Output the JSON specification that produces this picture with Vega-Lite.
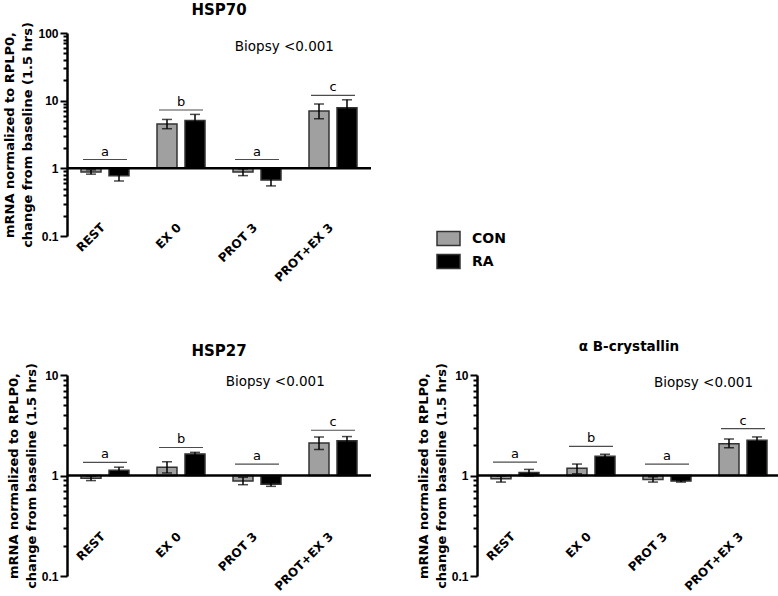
{
 "$schema": "https://vega.github.io/schema/vega-lite/v6.json",
 "padding": {"left": 3, "top": 2, "right": 0, "bottom": 0},
 "bounds": "flush",
 "spacing": 139,
 "config": {
  "view": {"stroke": null},
  "font": "DejaVu Sans",
  "title": {"font": "DejaVu Sans", "fontSize": 15, "fontWeight": "bold", "color": "black", "offset": 4},
  "axis": {"labelColor": "black", "titleColor": "black"},
  "legend": {
   "orient": "none", "legendX": 369, "legendY": 193,
   "symbolType": "M-1,-0.6H1V0.6H-1Z", "symbolSize": 529,
   "symbolStrokeColor": "#333333", "symbolStrokeWidth": 1.5,
   "labelFont": "DejaVu Sans", "labelFontWeight": "bold", "labelFontSize": 14, "labelColor": "black",
   "labelOffset": 11, "rowPadding": 0
  }
 },
 "datasets": {
  "bars": [
   {"gene": "HSP70", "group": "REST", "cond": "CON", "mean": 0.88, "lo": 0.82, "hi": 0.95},
   {"gene": "HSP70", "group": "REST", "cond": "RA", "mean": 0.78, "lo": 0.65, "hi": 0.9},
   {"gene": "HSP70", "group": "EX 0", "cond": "CON", "mean": 4.52, "lo": 3.85, "hi": 5.28},
   {"gene": "HSP70", "group": "EX 0", "cond": "RA", "mean": 5.1, "lo": 4.1, "hi": 6.27},
   {"gene": "HSP70", "group": "PROT 3", "cond": "CON", "mean": 0.88, "lo": 0.78, "hi": 0.98},
   {"gene": "HSP70", "group": "PROT 3", "cond": "RA", "mean": 0.67, "lo": 0.55, "hi": 0.8},
   {"gene": "HSP70", "group": "PROT+EX 3", "cond": "CON", "mean": 7.04, "lo": 5.4, "hi": 8.93},
   {"gene": "HSP70", "group": "PROT+EX 3", "cond": "RA", "mean": 7.87, "lo": 6.0, "hi": 10.3},
   {"gene": "HSP27", "group": "REST", "cond": "CON", "mean": 0.94, "lo": 0.89, "hi": 0.99},
   {"gene": "HSP27", "group": "REST", "cond": "RA", "mean": 1.13, "lo": 1.06, "hi": 1.21},
   {"gene": "HSP27", "group": "EX 0", "cond": "CON", "mean": 1.21, "lo": 1.06, "hi": 1.37},
   {"gene": "HSP27", "group": "EX 0", "cond": "RA", "mean": 1.64, "lo": 1.58, "hi": 1.7},
   {"gene": "HSP27", "group": "PROT 3", "cond": "CON", "mean": 0.88, "lo": 0.81, "hi": 0.96},
   {"gene": "HSP27", "group": "PROT 3", "cond": "RA", "mean": 0.82, "lo": 0.78, "hi": 0.86},
   {"gene": "HSP27", "group": "PROT+EX 3", "cond": "CON", "mean": 2.11, "lo": 1.81, "hi": 2.42},
   {"gene": "HSP27", "group": "PROT+EX 3", "cond": "RA", "mean": 2.22, "lo": 2.0, "hi": 2.44},
   {"gene": "aB", "group": "REST", "cond": "CON", "mean": 0.93, "lo": 0.86, "hi": 0.99},
   {"gene": "aB", "group": "REST", "cond": "RA", "mean": 1.07, "lo": 0.99, "hi": 1.15},
   {"gene": "aB", "group": "EX 0", "cond": "CON", "mean": 1.18, "lo": 1.04, "hi": 1.3},
   {"gene": "aB", "group": "EX 0", "cond": "RA", "mean": 1.55, "lo": 1.47, "hi": 1.63},
   {"gene": "aB", "group": "PROT 3", "cond": "CON", "mean": 0.91, "lo": 0.86, "hi": 0.97},
   {"gene": "aB", "group": "PROT 3", "cond": "RA", "mean": 0.88, "lo": 0.86, "hi": 0.9},
   {"gene": "aB", "group": "PROT+EX 3", "cond": "CON", "mean": 2.07, "lo": 1.89, "hi": 2.31},
   {"gene": "aB", "group": "PROT+EX 3", "cond": "RA", "mean": 2.24, "lo": 2.08, "hi": 2.42}
  ],
  "sig": [
   {"gene": "HSP70", "group": "REST", "yv": 1.35, "letter": "a"},
   {"gene": "HSP70", "group": "EX 0", "yv": 7.28, "letter": "b"},
   {"gene": "HSP70", "group": "PROT 3", "yv": 1.35, "letter": "a"},
   {"gene": "HSP70", "group": "PROT+EX 3", "yv": 12.0, "letter": "c"},
   {"gene": "HSP27", "group": "REST", "yv": 1.35, "letter": "a"},
   {"gene": "HSP27", "group": "EX 0", "yv": 1.9, "letter": "b"},
   {"gene": "HSP27", "group": "PROT 3", "yv": 1.3, "letter": "a"},
   {"gene": "HSP27", "group": "PROT+EX 3", "yv": 2.82, "letter": "c"},
   {"gene": "aB", "group": "REST", "yv": 1.36, "letter": "a"},
   {"gene": "aB", "group": "EX 0", "yv": 1.95, "letter": "b"},
   {"gene": "aB", "group": "PROT 3", "yv": 1.3, "letter": "a"},
   {"gene": "aB", "group": "PROT+EX 3", "yv": 2.93, "letter": "c"}
  ],
  "note": [
   {"gene": "HSP70", "group": "PROT 3", "yv": 63, "text": "Biopsy <0.001"},
   {"gene": "HSP27", "group": "PROT 3", "yv": 8.5, "text": "Biopsy <0.001"},
   {"gene": "aB", "group": "PROT 3", "yv": 8.3, "text": "Biopsy <0.001"}
  ]
 },
 "vconcat": [
  {
   "width": 304, "height": 203,
   "title": {"text": "HSP70"},
   "layer": [
    {
     "data": {"name": "bars"},
     "transform": [{"filter": "datum.gene === 'HSP70'"}],
     "mark": {"type": "bar", "stroke": "#333333", "strokeWidth": 1.5},
     "encoding": {
      "x": {"field": "group", "type": "nominal", "sort": ["REST", "EX 0", "PROT 3", "PROT+EX 3"], "scale": {"paddingInner": 0, "paddingOuter": 0}, "axis": {"title": null, "labelAngle": -45, "labelAlign": "right", "labelBaseline": "middle", "domain": false, "ticks": false, "tickSize": 0, "labelPadding": -11, "labelOffset": -2, "labelFont": "DejaVu Sans", "labelFontWeight": "bold", "labelFontSize": 12, "labelColor": "black"}},
      "xOffset": {"field": "cond", "type": "nominal", "sort": ["CON", "RA"], "scale": {"paddingInner": 0.286, "paddingOuter": 0.5}},
      "y": {"field": "mean", "type": "quantitative", "scale": {"type": "log", "domain": [0.1, 100]}, "axis": {"title": ["mRNA normalized to RPLP0,", "change from baseline (1.5 hrs)"], "titleFont": "DejaVu Sans", "titleFontSize": 13, "titleFontWeight": "bold", "titleLineHeight": 18, "titlePadding": 3, "grid": false, "values": [0.1, 0.2, 0.3, 0.4, 0.5, 0.6, 0.7, 0.8, 0.9, 1, 2, 3, 4, 5, 6, 7, 8, 9, 10, 20, 30, 40, 50, 60, 70, 80, 90, 100], "labelExpr": "abs(log(datum.value)/LN10 - round(log(datum.value)/LN10)) < 0.001 ? datum.label : ''", "tickSize": {"condition": {"test": "abs(log(datum.value)/LN10 - round(log(datum.value)/LN10)) < 0.001", "value": 7}, "value": 4}, "tickWidth": 2, "tickColor": "black", "domainColor": "black", "domainWidth": 2.5, "labelFont": "Liberation Sans", "labelFontWeight": "bold", "labelFontSize": 12, "labelPadding": 2}},
      "y2": {"datum": 1},
      "color": {"field": "cond", "type": "nominal", "scale": {"domain": ["CON", "RA"], "range": ["#a0a0a0", "#000000"]}, "title": null}
     }
    },
    {
     "data": {"name": "bars"},
     "transform": [{"filter": "datum.gene === 'HSP70'"}],
     "mark": {"type": "rule", "strokeWidth": 1.5, "color": "black"},
     "encoding": {
      "x": {"field": "group", "type": "nominal", "sort": ["REST", "EX 0", "PROT 3", "PROT+EX 3"]},
      "xOffset": {"field": "cond", "type": "nominal", "sort": ["CON", "RA"]},
      "y": {"field": "lo", "type": "quantitative"},
      "y2": {"field": "hi"}
     }
    },
    {
     "data": {"name": "bars"},
     "transform": [{"filter": "datum.gene === 'HSP70'"}],
     "mark": {"type": "tick", "size": 10, "thickness": 1.5, "color": "black"},
     "encoding": {
      "x": {"field": "group", "type": "nominal", "sort": ["REST", "EX 0", "PROT 3", "PROT+EX 3"]},
      "xOffset": {"field": "cond", "type": "nominal", "sort": ["CON", "RA"]},
      "y": {"field": "lo", "type": "quantitative"}
     }
    },
    {
     "data": {"name": "bars"},
     "transform": [{"filter": "datum.gene === 'HSP70'"}],
     "mark": {"type": "tick", "size": 10, "thickness": 1.5, "color": "black"},
     "encoding": {
      "x": {"field": "group", "type": "nominal", "sort": ["REST", "EX 0", "PROT 3", "PROT+EX 3"]},
      "xOffset": {"field": "cond", "type": "nominal", "sort": ["CON", "RA"]},
      "y": {"field": "hi", "type": "quantitative"}
     }
    },
    {
     "data": {"name": "note"},
     "transform": [{"filter": "datum.gene === 'HSP70'"}],
     "mark": {"type": "rule", "strokeWidth": 2.5, "color": "black"},
     "encoding": {"y": {"datum": 1}}
    },
    {
     "data": {"name": "sig"},
     "transform": [{"filter": "datum.gene === 'HSP70'"}],
     "mark": {"type": "tick", "size": 44, "thickness": 1.2, "color": "black"},
     "encoding": {
      "x": {"field": "group", "type": "nominal", "sort": ["REST", "EX 0", "PROT 3", "PROT+EX 3"]},
      "y": {"field": "yv", "type": "quantitative"}
     }
    },
    {
     "data": {"name": "sig"},
     "transform": [{"filter": "datum.gene === 'HSP70'"}],
     "mark": {"type": "text", "fontSize": 13, "baseline": "alphabetic", "dy": -4, "color": "black"},
     "encoding": {
      "x": {"field": "group", "type": "nominal", "sort": ["REST", "EX 0", "PROT 3", "PROT+EX 3"]},
      "y": {"field": "yv", "type": "quantitative"},
      "text": {"field": "letter"}
     }
    },
    {
     "data": {"name": "note"},
     "transform": [{"filter": "datum.gene === 'HSP70'"}],
     "mark": {"type": "text", "fontSize": 13.5, "baseline": "middle", "color": "black"},
     "encoding": {
      "x": {"field": "group", "type": "nominal", "sort": ["REST", "EX 0", "PROT 3", "PROT+EX 3"], "bandPosition": 0.86},
      "y": {"field": "yv", "type": "quantitative"},
      "text": {"field": "text"}
     }
    }
   ]
  },
  {
   "bounds": "flush",
   "spacing": 106,
   "hconcat": [
    {
     "width": 304, "height": 201,
     "title": {"text": "HSP27"},
     "layer": [
      {
       "data": {"name": "bars"},
       "transform": [{"filter": "datum.gene === 'HSP27'"}],
       "mark": {"type": "bar", "stroke": "#333333", "strokeWidth": 1.5},
       "encoding": {
        "x": {"field": "group", "type": "nominal", "sort": ["REST", "EX 0", "PROT 3", "PROT+EX 3"], "scale": {"paddingInner": 0, "paddingOuter": 0}, "axis": {"title": null, "labelAngle": -45, "labelAlign": "right", "labelBaseline": "middle", "domain": false, "ticks": false, "tickSize": 0, "labelPadding": -42, "labelOffset": -2, "labelFont": "DejaVu Sans", "labelFontWeight": "bold", "labelFontSize": 12, "labelColor": "black"}},
        "xOffset": {"field": "cond", "type": "nominal", "sort": ["CON", "RA"], "scale": {"paddingInner": 0.286, "paddingOuter": 0.5}},
        "y": {"field": "mean", "type": "quantitative", "scale": {"type": "log", "domain": [0.1, 10]}, "axis": {"title": ["mRNA normalized to RPLP0,", "change from baseline (1.5 hrs)"], "titleFont": "DejaVu Sans", "titleFontSize": 13, "titleFontWeight": "bold", "titleLineHeight": 18, "titlePadding": 3, "grid": false, "values": [0.1, 0.2, 0.3, 0.4, 0.5, 0.6, 0.7, 0.8, 0.9, 1, 2, 3, 4, 5, 6, 7, 8, 9, 10], "labelExpr": "abs(log(datum.value)/LN10 - round(log(datum.value)/LN10)) < 0.001 ? datum.label : ''", "tickSize": {"condition": {"test": "abs(log(datum.value)/LN10 - round(log(datum.value)/LN10)) < 0.001", "value": 7}, "value": 4}, "tickWidth": 2, "tickColor": "black", "domainColor": "black", "domainWidth": 2.5, "labelFont": "Liberation Sans", "labelFontWeight": "bold", "labelFontSize": 12, "labelPadding": 2}},
        "y2": {"datum": 1},
        "color": {"field": "cond", "type": "nominal", "scale": {"domain": ["CON", "RA"], "range": ["#a0a0a0", "#000000"]}, "title": null}
       }
      },
      {
       "data": {"name": "bars"},
       "transform": [{"filter": "datum.gene === 'HSP27'"}],
       "mark": {"type": "rule", "strokeWidth": 1.5, "color": "black"},
       "encoding": {
        "x": {"field": "group", "type": "nominal", "sort": ["REST", "EX 0", "PROT 3", "PROT+EX 3"]},
        "xOffset": {"field": "cond", "type": "nominal", "sort": ["CON", "RA"]},
        "y": {"field": "lo", "type": "quantitative"},
        "y2": {"field": "hi"}
       }
      },
      {
       "data": {"name": "bars"},
       "transform": [{"filter": "datum.gene === 'HSP27'"}],
       "mark": {"type": "tick", "size": 10, "thickness": 1.5, "color": "black"},
       "encoding": {
        "x": {"field": "group", "type": "nominal", "sort": ["REST", "EX 0", "PROT 3", "PROT+EX 3"]},
        "xOffset": {"field": "cond", "type": "nominal", "sort": ["CON", "RA"]},
        "y": {"field": "lo", "type": "quantitative"}
       }
      },
      {
       "data": {"name": "bars"},
       "transform": [{"filter": "datum.gene === 'HSP27'"}],
       "mark": {"type": "tick", "size": 10, "thickness": 1.5, "color": "black"},
       "encoding": {
        "x": {"field": "group", "type": "nominal", "sort": ["REST", "EX 0", "PROT 3", "PROT+EX 3"]},
        "xOffset": {"field": "cond", "type": "nominal", "sort": ["CON", "RA"]},
        "y": {"field": "hi", "type": "quantitative"}
       }
      },
      {
       "data": {"name": "note"},
       "transform": [{"filter": "datum.gene === 'HSP27'"}],
       "mark": {"type": "rule", "strokeWidth": 2.5, "color": "black"},
       "encoding": {"y": {"datum": 1}}
      },
      {
       "data": {"name": "sig"},
       "transform": [{"filter": "datum.gene === 'HSP27'"}],
       "mark": {"type": "tick", "size": 44, "thickness": 1.2, "color": "black"},
       "encoding": {
        "x": {"field": "group", "type": "nominal", "sort": ["REST", "EX 0", "PROT 3", "PROT+EX 3"]},
        "y": {"field": "yv", "type": "quantitative"}
       }
      },
      {
       "data": {"name": "sig"},
       "transform": [{"filter": "datum.gene === 'HSP27'"}],
       "mark": {"type": "text", "fontSize": 13, "baseline": "alphabetic", "dy": -4, "color": "black"},
       "encoding": {
        "x": {"field": "group", "type": "nominal", "sort": ["REST", "EX 0", "PROT 3", "PROT+EX 3"]},
        "y": {"field": "yv", "type": "quantitative"},
        "text": {"field": "letter"}
       }
      },
      {
       "data": {"name": "note"},
       "transform": [{"filter": "datum.gene === 'HSP27'"}],
       "mark": {"type": "text", "fontSize": 13.5, "baseline": "middle", "color": "black"},
       "encoding": {
        "x": {"field": "group", "type": "nominal", "sort": ["REST", "EX 0", "PROT 3", "PROT+EX 3"], "bandPosition": 0.74},
        "y": {"field": "yv", "type": "quantitative"},
        "text": {"field": "text"}
       }
      }
     ]
    },
    {
     "width": 304, "height": 201,
     "title": {"text": "α B-crystallin", "fontSize": 13.5, "offset": 9},
     "layer": [
      {
       "data": {"name": "bars"},
       "transform": [{"filter": "datum.gene === 'aB'"}],
       "mark": {"type": "bar", "stroke": "#333333", "strokeWidth": 1.5},
       "encoding": {
        "x": {"field": "group", "type": "nominal", "sort": ["REST", "EX 0", "PROT 3", "PROT+EX 3"], "scale": {"paddingInner": 0, "paddingOuter": 0}, "axis": {"title": null, "labelAngle": -45, "labelAlign": "right", "labelBaseline": "middle", "domain": false, "ticks": false, "tickSize": 0, "labelPadding": -42, "labelOffset": -2, "labelFont": "DejaVu Sans", "labelFontWeight": "bold", "labelFontSize": 12, "labelColor": "black"}},
        "xOffset": {"field": "cond", "type": "nominal", "sort": ["CON", "RA"], "scale": {"paddingInner": 0.286, "paddingOuter": 0.5}},
        "y": {"field": "mean", "type": "quantitative", "scale": {"type": "log", "domain": [0.1, 10]}, "axis": {"title": ["mRNA normalized to RPLP0,", "change from baseline (1.5 hrs)"], "titleFont": "DejaVu Sans", "titleFontSize": 13, "titleFontWeight": "bold", "titleLineHeight": 18, "titlePadding": 3, "grid": false, "values": [0.1, 0.2, 0.3, 0.4, 0.5, 0.6, 0.7, 0.8, 0.9, 1, 2, 3, 4, 5, 6, 7, 8, 9, 10], "labelExpr": "abs(log(datum.value)/LN10 - round(log(datum.value)/LN10)) < 0.001 ? datum.label : ''", "tickSize": {"condition": {"test": "abs(log(datum.value)/LN10 - round(log(datum.value)/LN10)) < 0.001", "value": 7}, "value": 4}, "tickWidth": 2, "tickColor": "black", "domainColor": "black", "domainWidth": 2.5, "labelFont": "Liberation Sans", "labelFontWeight": "bold", "labelFontSize": 12, "labelPadding": 2}},
        "y2": {"datum": 1},
        "color": {"field": "cond", "type": "nominal", "scale": {"domain": ["CON", "RA"], "range": ["#a0a0a0", "#000000"]}, "title": null}
       }
      },
      {
       "data": {"name": "bars"},
       "transform": [{"filter": "datum.gene === 'aB'"}],
       "mark": {"type": "rule", "strokeWidth": 1.5, "color": "black"},
       "encoding": {
        "x": {"field": "group", "type": "nominal", "sort": ["REST", "EX 0", "PROT 3", "PROT+EX 3"]},
        "xOffset": {"field": "cond", "type": "nominal", "sort": ["CON", "RA"]},
        "y": {"field": "lo", "type": "quantitative"},
        "y2": {"field": "hi"}
       }
      },
      {
       "data": {"name": "bars"},
       "transform": [{"filter": "datum.gene === 'aB'"}],
       "mark": {"type": "tick", "size": 10, "thickness": 1.5, "color": "black"},
       "encoding": {
        "x": {"field": "group", "type": "nominal", "sort": ["REST", "EX 0", "PROT 3", "PROT+EX 3"]},
        "xOffset": {"field": "cond", "type": "nominal", "sort": ["CON", "RA"]},
        "y": {"field": "lo", "type": "quantitative"}
       }
      },
      {
       "data": {"name": "bars"},
       "transform": [{"filter": "datum.gene === 'aB'"}],
       "mark": {"type": "tick", "size": 10, "thickness": 1.5, "color": "black"},
       "encoding": {
        "x": {"field": "group", "type": "nominal", "sort": ["REST", "EX 0", "PROT 3", "PROT+EX 3"]},
        "xOffset": {"field": "cond", "type": "nominal", "sort": ["CON", "RA"]},
        "y": {"field": "hi", "type": "quantitative"}
       }
      },
      {
       "data": {"name": "note"},
       "transform": [{"filter": "datum.gene === 'aB'"}],
       "mark": {"type": "rule", "strokeWidth": 2.5, "color": "black"},
       "encoding": {"y": {"datum": 1}}
      },
      {
       "data": {"name": "sig"},
       "transform": [{"filter": "datum.gene === 'aB'"}],
       "mark": {"type": "tick", "size": 44, "thickness": 1.2, "color": "black"},
       "encoding": {
        "x": {"field": "group", "type": "nominal", "sort": ["REST", "EX 0", "PROT 3", "PROT+EX 3"]},
        "y": {"field": "yv", "type": "quantitative"}
       }
      },
      {
       "data": {"name": "sig"},
       "transform": [{"filter": "datum.gene === 'aB'"}],
       "mark": {"type": "text", "fontSize": 13, "baseline": "alphabetic", "dy": -4, "color": "black"},
       "encoding": {
        "x": {"field": "group", "type": "nominal", "sort": ["REST", "EX 0", "PROT 3", "PROT+EX 3"]},
        "y": {"field": "yv", "type": "quantitative"},
        "text": {"field": "letter"}
       }
      },
      {
       "data": {"name": "note"},
       "transform": [{"filter": "datum.gene === 'aB'"}],
       "mark": {"type": "text", "fontSize": 13.5, "baseline": "middle", "color": "black"},
       "encoding": {
        "x": {"field": "group", "type": "nominal", "sort": ["REST", "EX 0", "PROT 3", "PROT+EX 3"], "bandPosition": 0.98},
        "y": {"field": "yv", "type": "quantitative"},
        "text": {"field": "text"}
       }
      }
     ]
    }
   ]
  }
 ]
}
